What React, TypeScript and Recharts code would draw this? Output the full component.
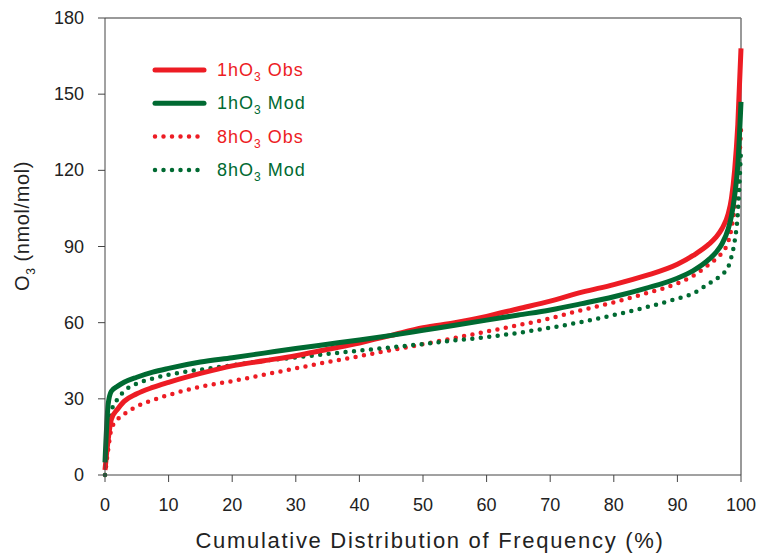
import React from 'react';
import {
  LineChart, Line, XAxis, YAxis, ReferenceLine,
} from 'recharts';

// cumulative frequency (%) where values were read
const pct = [0, 0.5, 1, 2, 3, 5, 7.5, 10, 15, 20, 25, 30, 35, 40, 45, 50, 55, 60, 65, 70, 75, 80, 85, 90, 92.5, 95, 96, 97, 98, 98.5, 99, 99.5, 100];

const obs1h = [2, 14, 22, 26, 29, 32, 34.5, 36.5, 40, 43, 45, 47, 49.5, 52, 55, 58, 60, 62.5, 65.5, 68.5, 72, 75, 78.5, 83, 86.5, 91, 93.5, 97, 103, 109, 120, 138, 168];
const mod1h = [5, 28, 33, 35, 36.5, 38.5, 40.5, 42, 44.5, 46.2, 48, 49.8, 51.5, 53.2, 55, 57, 59, 61, 63, 65, 67.5, 70.2, 73.5, 77.5, 80.5, 85, 87.5, 91, 97, 102, 110, 122, 147];
const obs8h = [0, 10, 18, 22, 24, 27, 29.5, 31.5, 34.8, 37, 39.5, 42, 44.5, 46.8, 49.2, 51.5, 54, 56.5, 59, 61.7, 65, 68, 71.5, 75.5, 78.5, 83, 85, 87.5, 92, 97, 105, 115, 136];
const mod8h = [0, 15, 25, 30, 33, 36, 38, 39.5, 41.5, 43.2, 45, 46.3, 47.7, 49, 50.3, 51.6, 53, 54.3, 56, 58, 60.3, 63, 66, 69.5, 71.5, 75.5, 77, 79, 82, 86, 92, 103, 128];

const xTicks = [0, 10, 20, 30, 40, 50, 60, 70, 80, 90, 100];
const yTicks = [0, 30, 60, 90, 120, 150, 180];

const RED = '#ED1C24';
const GREEN = '#006A32';
const FONT = '"Liberation Sans", Arial, sans-serif';

const data = pct.map((p, i) => ({
  p, obs1h: obs1h[i], mod1h: mod1h[i], obs8h: obs8h[i], mod8h: mod8h[i],
}));

const legendItems = [
  { hour: '1', kind: 'Obs', color: RED, dotted: false },
  { hour: '1', kind: 'Mod', color: GREEN, dotted: false },
  { hour: '8', kind: 'Obs', color: RED, dotted: true },
  { hour: '8', kind: 'Mod', color: GREEN, dotted: true },
];

const YTick = (props: any) => {
  const { x, y, payload } = props;
  return (
    <text x={x - 12} y={y} dy={6} textAnchor="end" fontFamily={FONT} fontSize={18} fill="#222">
      {payload.value}
    </text>
  );
};

const App = () => {
  return (
    <div style={{ position: 'absolute', left: 0, top: 0, width: 760, height: 553, background: '#fff' }}>
      <LineChart width={760} height={553} data={data} margin={{ top: 18, right: 19, bottom: 28, left: 45 }}>
        <XAxis
          dataKey="p" type="number" domain={[0, 100]} ticks={xTicks} height={50}
          stroke="#444" tickSize={7} tickMargin={16}
          tick={{ fill: '#222', fontSize: 18, fontFamily: FONT }}
        />
        <YAxis
          type="number" domain={[0, 180]} ticks={yTicks} width={60}
          stroke="#444" tickSize={7} tick={<YTick />}
        />
        <ReferenceLine y={180} stroke="#777" strokeWidth={1.5} />
        <ReferenceLine x={100} stroke="#777" strokeWidth={1.5} />
        <Line type="monotone" dataKey="obs8h" stroke={RED} strokeWidth={4.5} strokeDasharray="0 8.5" strokeLinecap="round" dot={false} isAnimationActive={false} />
        <Line type="monotone" dataKey="mod8h" stroke={GREEN} strokeWidth={4.5} strokeDasharray="0 8.5" strokeLinecap="round" dot={false} isAnimationActive={false} />
        <Line type="monotone" dataKey="obs1h" stroke={RED} strokeWidth={5} dot={false} isAnimationActive={false} />
        <Line type="monotone" dataKey="mod1h" stroke={GREEN} strokeWidth={5} dot={false} isAnimationActive={false} />
      </LineChart>
      <svg width={760} height={553} style={{ position: 'absolute', left: 0, top: 0, pointerEvents: 'none' }}>
        <text transform="translate(29,226) rotate(-90)" textAnchor="middle" fontFamily={FONT} fontSize={20} fill="#222" letterSpacing={0.6}>
          O<tspan fontSize={12} dy={6}>3</tspan><tspan dy={-6}> (nmol/mol)</tspan>
        </text>
        <text x={430} y={548} textAnchor="middle" fontFamily={FONT} fontSize={22} fill="#222" letterSpacing={1.7}>
          Cumulative Distribution of Frequency (%)
        </text>
        {legendItems.map((it, i) => {
          const y = 70 + i * 33.3;
          return (
            <g key={i}>
              <line x1={155} x2={204} y1={y} y2={y} stroke={it.color} strokeWidth={it.dotted ? 4.5 : 5}
                strokeLinecap="round" strokeDasharray={it.dotted ? '0 8.5' : undefined} />
              <text x={217} y={y + 6} fontFamily={FONT} fontSize={18} fill={it.color} letterSpacing={1}>
                {it.hour}hO<tspan fontSize={12} dy={5}>3</tspan><tspan dy={-5}> {it.kind}</tspan>
              </text>
            </g>
          );
        })}
      </svg>
    </div>
  );
};

export default App;
